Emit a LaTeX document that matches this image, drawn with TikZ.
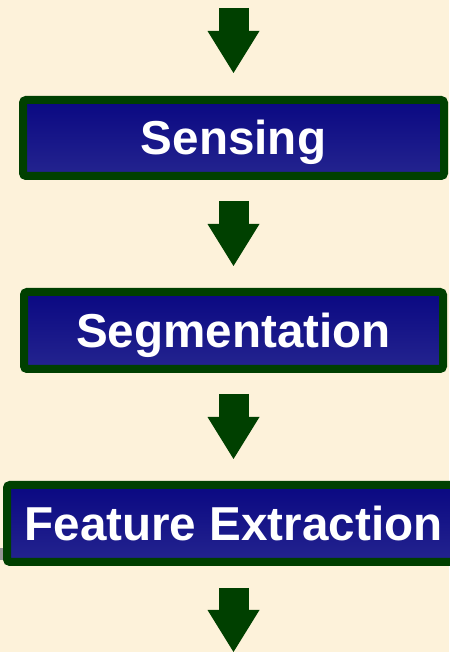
\documentclass[tikz,border=0pt]{standalone}
\usepackage{fontspec}
\setmainfont{Liberation Sans}
\usetikzlibrary{arrows.meta}
\definecolor{bg}{RGB}{253,242,218}
\definecolor{dgreen}{RGB}{0,64,0}
\definecolor{btop}{RGB}{10,8,130}
\definecolor{bbot}{RGB}{36,36,143}
\definecolor{shadowgray}{RGB}{150,150,150}
\tikzset{
  stagebox/.style={draw=dgreen, line width=8pt, rounded corners=3pt,
    top color=btop, bottom color=bbot, inner sep=0pt,
    text=white, font=\fontsize{47.6}{57}\selectfont\bfseries,
    text height=34pt, text depth=0pt},
  blockarrow/.style={draw=dgreen, line width=30pt,
    -{Triangle[width=52pt,length=42pt,line width=0pt]},
    shorten <=21pt, shorten >=22pt}
}
\begin{document}
\begin{tikzpicture}[x=1pt,y=1pt]
\fill[bg] (0,0) rectangle (449,652);
\useasboundingbox (0,0) rectangle (449,652);
\fill[shadowgray] (0,92) rectangle (6,104);
\node[stagebox, minimum width=421pt, minimum height=76pt] (sens) at (233.5,514) {Sensing};
\node[stagebox, minimum width=419pt, minimum height=77pt] (seg) at (233.5,321.5) {Segmentation};
\node[stagebox, minimum width=453pt, minimum height=77pt] (feat) at (233.5,128.5) {Feature Extraction};
\coordinate (top) at (233.5,665);
\coordinate (bot) at (233.5,-22);
\draw[blockarrow, shorten <=21pt, shorten >=23pt] (top) -- (sens.north);
\draw[blockarrow] (sens.south) -- (seg.north);
\draw[blockarrow] (seg.south) -- (feat.north);
\draw[blockarrow, shorten <=22pt] (feat.south) -- (bot);
\end{tikzpicture}
\end{document}
